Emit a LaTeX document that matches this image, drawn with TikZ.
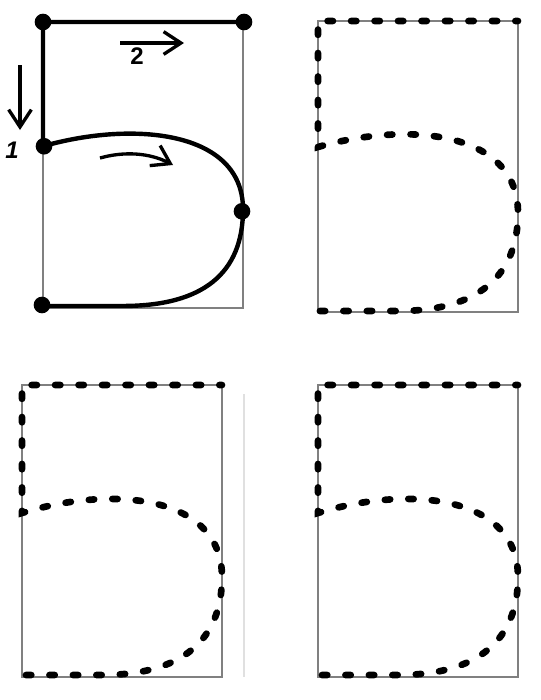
\documentclass[tikz,border=0pt]{standalone}
\usepackage{fontspec}
\setmainfont{Liberation Sans}
\usetikzlibrary{arrows.meta}
\begin{document}
\begin{tikzpicture}[x=0.75pt,y=-0.75pt,
  frame/.style={draw=black!50, line width=2.1pt},
  solidpath/.style={line width=3.3pt, line cap=round, line join=round},
  dashpath/.style={line width=5pt, line cap=round, dash pattern=on 4pt off 13.6pt, dash phase=2pt},
  dot/.style={circle, fill=black, inner sep=0pt, minimum size=12.5pt},
  guidearrow/.style={line width=2.5pt, -{Straight Barb[length=13pt,width=17pt,line width=2.5pt]}},
  numlabel/.style={font=\fontsize{18}{20}\selectfont\bfseries, inner sep=0pt}]
\useasboundingbox[fill=white] (0,0) rectangle (540,700);
% frames
\draw[frame] (43,22) rectangle (243,308);
\draw[frame] (318,21) rectangle (518,312);
\draw[frame] (22,385) rectangle (222,677);
\draw[frame] (318,385) rectangle (518,677);
\draw[black!12, line width=0.8pt] (244,394) -- (244,677);
% panel 1 (solid)
\begin{scope}[shift={(43,22)}, yscale=0.986]
  \draw[solidpath] (200,0) -- (0,0) -- (0,126)
    .. controls (90,100) and (200,110) .. (200,190)
    .. controls (200,255) and (160,288) .. (80,288) -- (0,288);
  \node[dot] (d1) at (0,0) {};
  \node[dot] (d2) at (201,0) {};
  \node[dot] (d3) at (1,126) {};
  \node[dot] (d4) at (199,192) {};
  \node[dot] (d5) at (-1,287) {};
\end{scope}
\coordinate (a1s) at (20,65);
\coordinate (a1e) at (20,130);
\draw[guidearrow] (a1s) -- (a1e);
\node[numlabel] (l1) at (12,150) {\itshape 1};
\coordinate (a2s) at (120,43);
\coordinate (a2e) at (184,43);
\draw[guidearrow] (a2s) -- (a2e);
\node[numlabel] (l2) at (137,56) {2};
\coordinate (a3s) at (100,158);
\coordinate (a3e) at (173,165);
\draw[guidearrow] (a3s) .. controls (125,151) and (150,153) .. (a3e);
% panel 2
\begin{scope}[shift={(318,21)}, yscale=1.0]
  \draw[dashpath] (200,0) -- (0,0) -- (0,126)
    .. controls (90,100) and (200,110) .. (200,192)
    .. controls (200,255) and (160,290) .. (80,290) -- (0,290);
\end{scope}
% panel 3
\begin{scope}[shift={(22,385)}, yscale=1.0]
  \draw[dashpath] (200,0) -- (0,0) -- (0,128)
    .. controls (90,100) and (200,110) .. (200,192)
    .. controls (200,255) and (160,290) .. (80,290) -- (0,290);
\end{scope}
% panel 4
\begin{scope}[shift={(318,385)}, yscale=1.0]
  \draw[dashpath] (200,0) -- (0,0) -- (0,128)
    .. controls (90,100) and (200,110) .. (200,192)
    .. controls (200,255) and (160,290) .. (80,290) -- (0,290);
\end{scope}
\end{tikzpicture}
\end{document}
